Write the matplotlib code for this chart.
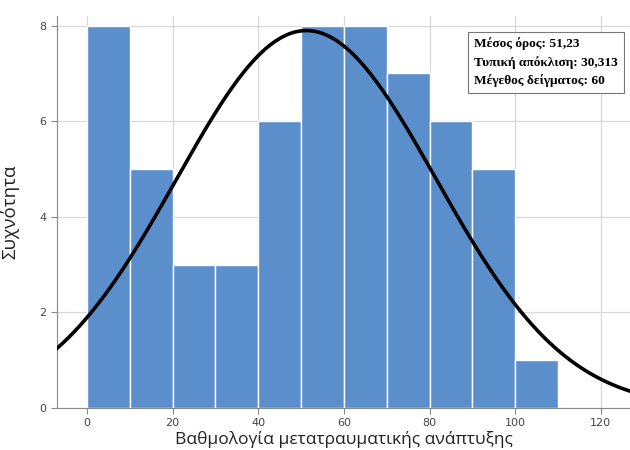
import numpy as np
import matplotlib.pyplot as plt

# histogram data
bin_edges = [0, 10, 20, 30, 40, 50, 60, 70, 80, 90, 100, 110]
counts = [8, 5, 3, 3, 6, 8, 8, 7, 6, 5, 1]
mean, sd, n = 51.23, 30.313, 60
x_ticks = [0, 20, 40, 60, 80, 100, 120]
y_ticks = [0, 2, 4, 6, 8]

BAR = "#5b8fcc"
GRID = "#d9d9d9"

fig = plt.figure(figsize=(6.3, 4.5), dpi=100)
ax = fig.add_axes([0.0905, 0.0933, 0.9095, 0.871])

ax.bar(bin_edges[:-1], counts, width=10, align="edge",
       color=BAR, edgecolor="white", lw=1.0, zorder=2)

xs = np.linspace(-7, 127, 400)
pdf = np.exp(-0.5 * ((xs - mean) / sd) ** 2) / (sd * np.sqrt(2 * np.pi))
ax.plot(xs, n * 10 * pdf, color="black", lw=2.6, zorder=3)

ax.set_xlim(-7, 126.8)
ax.set_ylim(0, 8.2)
ax.set_xticks(x_ticks)
ax.set_yticks(y_ticks)
ax.grid(True, color=GRID, lw=0.9, zorder=0)
ax.set_axisbelow(True)
for s in ["top", "right"]:
    ax.spines[s].set_visible(False)
for s in ["left", "bottom"]:
    ax.spines[s].set_color("#888888")
ax.tick_params(labelsize=8, colors="#444444", length=4, color="#888888")

ax.set_ylabel("Συχνότητα", fontsize=13.5, color="#222222", family="Open Sans")
ax.yaxis.set_label_coords(-0.066, 0.5)
ax.set_xlabel("Βαθμολογία μετατραυματικής ανάπτυξης", fontsize=12.5,
              color="#222222", labelpad=2, family="Open Sans")

ax.text(0.728, 0.945,
        "Μέσος όρος: 51,23\nΤυπική απόκλιση: 30,313\nΜέγεθος δείγματος: 60",
        transform=ax.transAxes, ha="left", va="top", fontsize=9.6,
        family="Liberation Serif", fontweight="bold", linespacing=1.55,
        bbox=dict(boxstyle="square,pad=0.45", fc="white", ec="#777777", lw=0.8),
        zorder=5)

fig.savefig("out.png", dpi=100)
